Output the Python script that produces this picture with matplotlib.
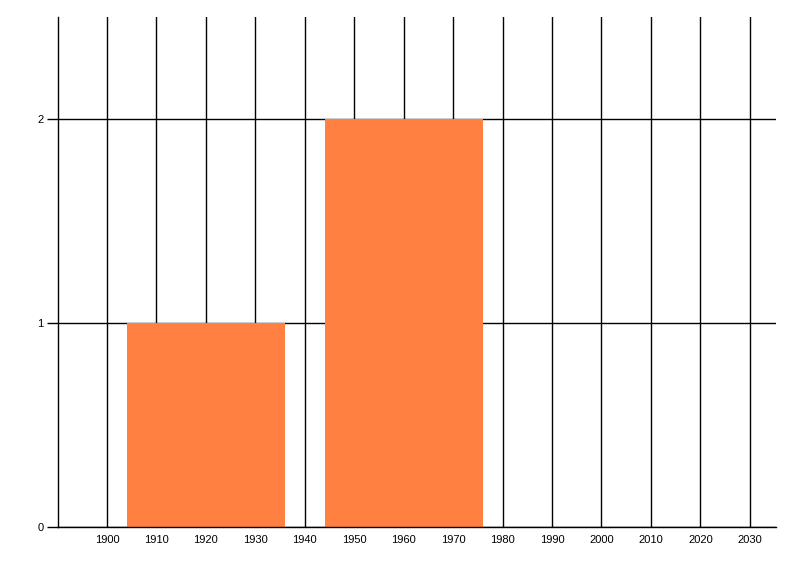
import matplotlib
matplotlib.use("Agg")
import matplotlib.pyplot as plt

# histogram-like bars: decade bins centred on these years
years = [1920, 1960]
counts = [1, 2]
bin_width = 32

x_ticks = list(range(1900, 2031, 10))
y_ticks = [0, 1, 2]

plt.rcParams['font.family'] = ['Liberation Sans', 'DejaVu Sans']

fig = plt.figure(figsize=(8, 5.76), dpi=100)
ax = fig.add_axes([0.0719, 0.0851, 0.97 - 0.0719, 0.9705 - 0.0851])

ax.set_axisbelow(True)
ax.grid(True, color='black', linewidth=1)
ax.bar(years, counts, width=bin_width, color='#FF8040', zorder=2)

ax.set_xlim(1890, 2035.3)
ax.set_ylim(0, 2.5)
ax.set_xticks(x_ticks)
ax.set_yticks(y_ticks)

for side in ('top', 'right'):
    ax.spines[side].set_visible(False)
for side in ('left', 'bottom'):
    ax.spines[side].set_linewidth(1)
    ax.spines[side].set_zorder(3)

ax.tick_params(axis='x', length=0, pad=6, labelsize=8)
ax.tick_params(axis='y', length=8, width=1, pad=2, labelsize=8)

fig.savefig('out.png', dpi=100)
